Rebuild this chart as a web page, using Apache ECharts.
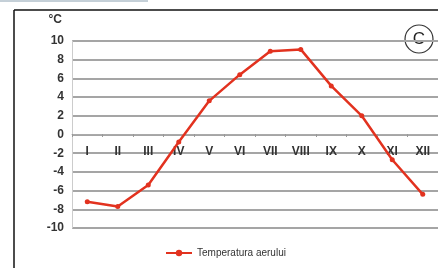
<!DOCTYPE html>
<html><head><meta charset="utf-8">
<script src="https://cdn.jsdelivr.net/npm/echarts@6/dist/echarts.min.js"></script>
<style>html,body{margin:0;padding:0;background:#fff}#c{width:438px;height:268px}</style>
</head><body><div id="c"></div>
<script>
const months = ['I','II','III','IV','V','VI','VII','VIII','IX','X','XI','XII'];
const temperature = [-7.2, -7.7, -5.4, -0.8, 3.6, 6.4, 8.9, 9.1, 5.2, 2.0, -2.7, -6.4];
const seriesName = 'Temperatura aerului';
const unitLabel = '°C';

const chart = echarts.init(document.getElementById('c'), null, {renderer:'canvas'});
chart.setOption({
  animation:false,
  backgroundColor:'#fff',
  grid:{left:72, right:0, top:41, bottom:40},
  legend:{
    bottom:5, left:160, itemWidth:26, itemHeight:8, itemGap:3,
    textStyle:{fontFamily:'Liberation Sans', fontSize:10, color:'#333'},
    data:[seriesName]
  },
  xAxis:{
    type:'category', data:months, position:'bottom', offset:-94,
    axisLine:{onZero:false, lineStyle:{color:'#aaa', width:1}},
    axisTick:{show:true, length:3, lineStyle:{color:'#999'}},
    axisLabel:{margin:12, fontFamily:'Liberation Sans', fontWeight:'bold', fontSize:12, color:'#333'}
  },
  yAxis:{
    type:'value', min:-10, max:10, interval:2,
    name:unitLabel, nameLocation:'end', nameGap:15,
    nameTextStyle:{fontFamily:'Liberation Sans', fontWeight:'bold', fontSize:12, color:'#333', align:'right', padding:[0,10,0,0]},
    axisLine:{show:true, lineStyle:{color:'#ccc', width:1}},
    axisTick:{show:false},
    axisLabel:{margin:8, fontFamily:'Liberation Sans', fontWeight:'bold', fontSize:12, color:'#333'},
    splitLine:{lineStyle:{color:'#a5a5a5', width:2}}
  },
  series:[{
    name:seriesName, type:'line', data:temperature,
    symbol:'circle', symbolSize:5,
    lineStyle:{color:'#e2321f', width:2.5},
    itemStyle:{color:'#e2321f'}
  }],
  graphic:[
    {type:'line', shape:{x1:0,y1:1,x2:148,y2:1}, style:{stroke:'#8aa0b0', lineWidth:1}},
    {type:'line', shape:{x1:14,y1:10,x2:438,y2:10}, style:{stroke:'#111', lineWidth:1.5}},
    {type:'line', shape:{x1:14,y1:10,x2:14,y2:268}, style:{stroke:'#111', lineWidth:1.5}},
    {type:'circle', shape:{cx:419, cy:39, r:14}, style:{fill:'#fff', stroke:'#333', lineWidth:1.2}},
    {type:'text', x:419, y:39, style:{text:'C', fontFamily:'Liberation Sans', fontSize:17, fill:'#222', align:'center', verticalAlign:'middle'}}
  ]
});
</script></body></html>
